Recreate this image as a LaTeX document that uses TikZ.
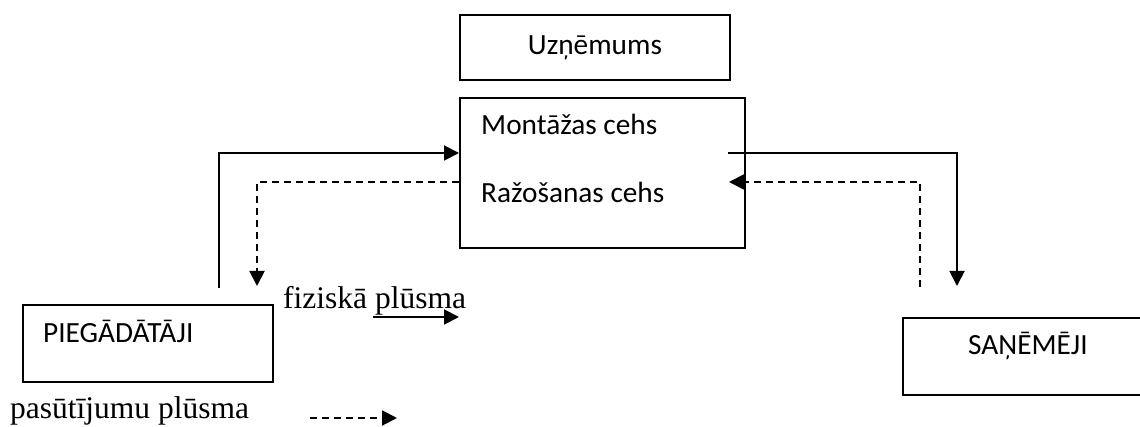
\documentclass[tikz,border=0pt]{standalone}
\usepackage{fontspec}
\setmainfont{Liberation Serif}
\newfontfamily\boxfont{Carlito}
\usetikzlibrary{arrows.meta}
\begin{document}
\begin{tikzpicture}[x=1pt,y=-1pt,
  frame/.style={draw, line width=1.9pt, inner sep=0pt, anchor=north west},
  flow/.style={line width=1.9pt, -{Triangle[length=15pt,width=15pt]}},
  order/.style={flow, dash pattern=on 7pt off 5pt},
  lbl/.style={font=\boxfont\fontsize{29.3}{34}\selectfont, anchor=base west, inner sep=0pt},
  legend/.style={font=\fontsize{31.5}{36}\selectfont, anchor=base west, inner sep=0pt}]
\useasboundingbox (0,0) rectangle (1140,427);

% boxes
\node[frame, minimum width=270pt, minimum height=65pt,
      font=\boxfont\fontsize{29.3}{34}\selectfont] (uzn) at (459,14) {Uzņēmums};
\node[frame, minimum width=285pt, minimum height=150pt] (ceh) at (459,97) {};
\node[frame, minimum width=250pt, minimum height=77pt] (pieg) at (22,304) {};
\node[frame, minimum width=260pt, minimum height=77pt] (san) at (902,317) {};

% labels
\node[lbl] (mont) at (481,135) {Montāžas cehs};
\node[lbl] (raz) at (481,203) {Ražošanas cehs};
\node[lbl] (piegt) at (43,343) {PIEGĀDĀTĀJI};
\node[lbl] (sant) at (968,355) {SAŅĒMĒJI};

% rows of the flows
\coordinate (rowP) at (0,153);
\coordinate (rowO) at (0,182);

% free ends of the flows
\coordinate (a1) at (219,288);
\coordinate (a2) at (257,286);
\coordinate (b1) at (728,153);
\coordinate (b2) at (957,286);
\coordinate (c1) at (920,287);
\coordinate (c2) at (729,182);

% physical flow
\draw[flow] (a1) |- (ceh.west |- rowP);
\draw[flow] (b1) -| (b2);
% order flow
\draw[order] (ceh.west |- rowO) -| (a2);
\draw[order] (c1) |- (c2);

% legend
\node[legend] (lf) at (283,309) {fiziskā plūsma};
\node[legend] (lo) at (10,418) {pasūtījumu plūsma};
\coordinate (l1) at (373,317);
\coordinate (l2) at (459,317);
\coordinate (m1) at (310,418);
\coordinate (m2) at (397,418);
\draw[flow] (l1) -- (l2);
\draw[order] (m1) -- (m2);
\end{tikzpicture}
\end{document}
